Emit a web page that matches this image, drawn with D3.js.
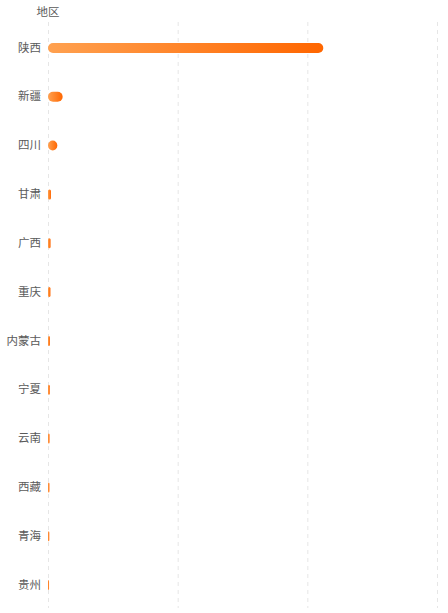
<!DOCTYPE html>
<html><head><meta charset="utf-8">
<script src="https://cdn.jsdelivr.net/npm/d3@7"></script>
<style>body{margin:0;background:#fff;}svg{display:block;font-family:"Noto Sans CJK SC",sans-serif;}</style>
</head><body>
<svg id="c" width="448" height="613"></svg>
<script>
const categories = ["陕西","新疆","四川","甘肃","广西","重庆","内蒙古","宁夏","云南","西藏","青海","贵州"];
const values = [2123, 113, 72, 23, 20, 19, 15, 14, 12, 11, 10, 8];
const xTicks = [0, 1000, 2000, 3000];
const axisTitle = "地区";

const svg = d3.select("#c");
const margin = {left:48, right:11, top:22, bottom:5};
const W = 448, H = 613;
const x = d3.scaleLinear().domain([0,3000]).range([margin.left, W - margin.right]);
const y = d3.scaleBand().domain(categories).range([margin.top + 1.5, H - margin.bottom + 1.5]);

const defs = svg.append("defs");
const grad = defs.append("linearGradient").attr("id","g").attr("x1","0").attr("x2","1").attr("y1","0").attr("y2","0");
grad.append("stop").attr("offset","0%").attr("stop-color","#ffa150");
grad.append("stop").attr("offset","100%").attr("stop-color","#ff6600");

// grid
svg.append("g").selectAll("line").data(xTicks).join("line")
  .attr("x1", d=>x(d)+0.5).attr("x2", d=>x(d)+0.5)
  .attr("y1", margin.top).attr("y2", H - margin.bottom)
  .attr("stroke","#e6e6e6").attr("stroke-dasharray","4,4");

// axis labels
const yAxis = d3.axisLeft(y).tickSize(0).tickPadding(7);
const ga = svg.append("g").attr("transform",`translate(${margin.left},0)`).call(yAxis);
ga.select(".domain").remove();
ga.selectAll("text").attr("font-size",11.5).attr("fill","#5a5a5a").style("font-family",'"Noto Sans CJK SC",sans-serif');

svg.append("text").attr("x", margin.left).attr("y", 16).attr("text-anchor","middle")
  .attr("font-size",11.5).attr("fill","#5a5a5a").text(axisTitle);

// bars
const bh = 10;
svg.append("g").selectAll("rect").data(values).join("rect")
  .attr("x", x(0))
  .attr("y", (d,i)=> y(categories[i]) + y.bandwidth()/2 - bh/2)
  .attr("width", d=> x(d)-x(0))
  .attr("height", bh)
  .attr("rx", d=> Math.min(5,(x(d)-x(0))/2))
  .attr("ry", d=> (x(d)-x(0)) < 6 ? 1.5 : 5)
  .attr("fill","url(#g)");
</script>
</body></html>
